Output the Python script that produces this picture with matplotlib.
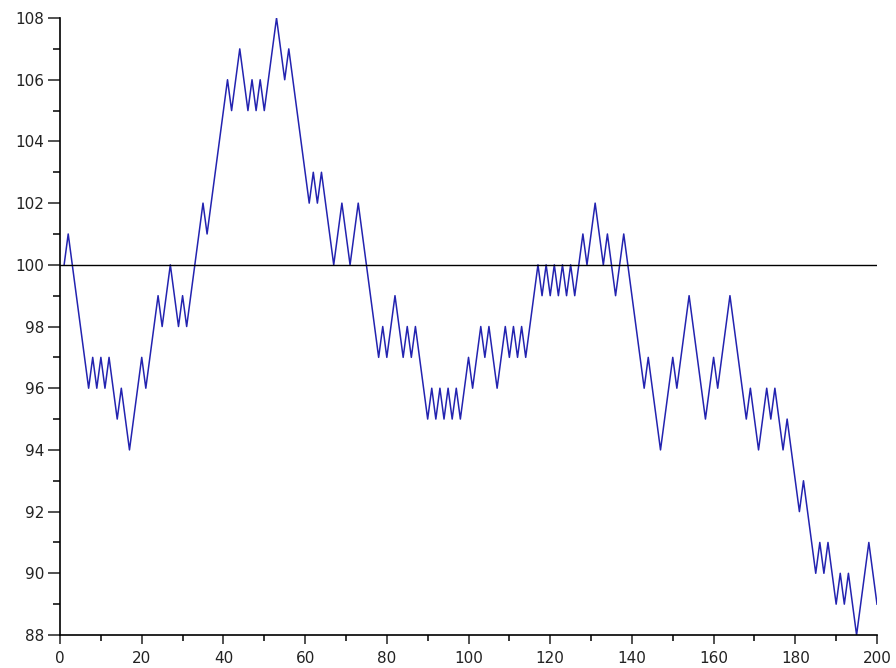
import matplotlib
matplotlib.use('Agg')
import matplotlib.pyplot as plt
import numpy as np

# price path of a +/-1 random walk, one point per step
steps = np.arange(1, 201)
price = [
    100, 101, 100, 99, 98, 97, 96, 97, 96, 97,
    96, 97, 96, 95, 96, 95, 94, 95, 96, 97,
    96, 97, 98, 99, 98, 99, 100, 99, 98, 99,
    98, 99, 100, 101, 102, 101, 102, 103, 104, 105,
    106, 105, 106, 107, 106, 105, 106, 105, 106, 105,
    106, 107, 108, 107, 106, 107, 106, 105, 104, 103,
    102, 103, 102, 103, 102, 101, 100, 101, 102, 101,
    100, 101, 102, 101, 100, 99, 98, 97, 98, 97,
    98, 99, 98, 97, 98, 97, 98, 97, 96, 95,
    96, 95, 96, 95, 96, 95, 96, 95, 96, 97,
    96, 97, 98, 97, 98, 97, 96, 97, 98, 97,
    98, 97, 98, 97, 98, 99, 100, 99, 100, 99,
    100, 99, 100, 99, 100, 99, 100, 101, 100, 101,
    102, 101, 100, 101, 100, 99, 100, 101, 100, 99,
    98, 97, 96, 97, 96, 95, 94, 95, 96, 97,
    96, 97, 98, 99, 98, 97, 96, 95, 96, 97,
    96, 97, 98, 99, 98, 97, 96, 95, 96, 95,
    94, 95, 96, 95, 96, 95, 94, 95, 94, 93,
    92, 93, 92, 91, 90, 91, 90, 91, 90, 89,
    90, 89, 90, 89, 88, 89, 90, 91, 90, 89,
]
start_level = 100

fig = plt.figure(figsize=(8.96, 6.68), dpi=100)
ax = fig.add_axes([0.067, 0.0494, 0.9118, 0.9236])

ax.plot(steps, price, color='#2323b0', linewidth=1.1)
ax.axhline(start_level, color='black', linewidth=1.0)

ax.set_xlim(0, 200)
ax.set_ylim(88, 108)
ax.set_xticks(np.arange(0, 201, 20))
ax.set_xticks(np.arange(10, 200, 20), minor=True)
ax.set_yticks(np.arange(88, 109, 2))
ax.set_yticks(np.arange(89, 108, 2), minor=True)

for side in ['top', 'right']:
    ax.spines[side].set_visible(False)
for side in ['left', 'bottom']:
    ax.spines[side].set_linewidth(1.2)

ax.tick_params(axis='y', which='major', length=8.5, width=1.1, labelsize=11, pad=3, colors='#222222')
ax.tick_params(axis='y', which='minor', length=5, width=1.1)
ax.tick_params(axis='x', which='major', length=6.5, width=1.1, labelsize=11, pad=5, colors='#222222')
ax.tick_params(axis='x', which='minor', length=4.5, width=1.1)

plt.savefig('out.png', dpi=100)
